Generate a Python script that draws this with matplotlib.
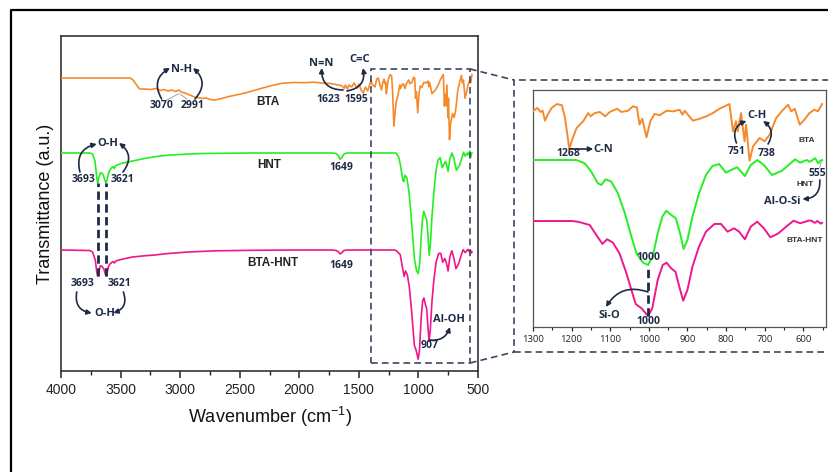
import numpy as np
import matplotlib
matplotlib.use("Agg")
import matplotlib.pyplot as plt
from matplotlib.lines import Line2D
from matplotlib.patches import Rectangle
from matplotlib.ticker import MultipleLocator

# ---------------- data ----------------
bta_wn = [4000, 3420, 3395, 3360, 3340, 3300, 3250, 3200, 3170, 3140, 3100, 3070, 3040, 3010, 2991,
          2960, 2920, 2880, 2850, 2819, 2780, 2750, 2707, 2650, 2598, 2530, 2456, 2380, 2316, 2230,
          2148, 2050, 1959, 1880, 1812, 1740, 1672, 1640, 1623, 1612, 1595, 1582, 1560, 1540, 1515,
          1500, 1480, 1463, 1445, 1425, 1400, 1385, 1365, 1350, 1337, 1320, 1310, 1299, 1289, 1280,
          1275, 1269, 1261, 1252, 1238, 1225, 1217, 1206, 1197, 1187, 1170, 1157, 1151, 1140, 1127,
          1113, 1101, 1082, 1071, 1054, 1041, 1031, 1024, 1017, 1006, 996, 985, 972, 954, 937, 920,
          913, 907, 886, 868, 851, 834, 817, 795, 791, 782, 774, 770, 761, 752, 748, 739, 730, 713,
          700, 687, 670, 652, 639, 631, 622, 609, 597, 584, 571, 562, 551]
bta_t = [100, 100, 98, 92, 89, 89, 88.5, 89.5, 87.5, 88.5, 87, 88, 86.5, 88, 86,
         85, 83, 81, 80.5, 79.5, 80, 78.5, 78, 79.5, 81.3, 83, 85, 87.5, 89.7, 92.5,
         94.7, 95.5, 95.3, 95.8, 95, 94.5, 93, 92, 89.5, 93, 89, 93, 91, 95, 90,
         94, 88, 85, 91, 87, 97, 93, 91, 99, 100, 92, 88, 95.7, 98.9, 94.3,
         95.7, 84.3, 92, 98.9, 103.4, 102, 87.4, 52, 64.4, 75.9, 83.6, 93, 89.3, 93, 94.3,
         89.3, 94.3, 98, 94.3, 95.7, 100.8, 99.6, 79.7, 86.5, 65.2, 83.6, 92, 90.5, 95.7, 95, 96.9,
         91.2, 95.7, 84.3, 86.5, 89.3, 93, 98, 102.6, 103.4, 72, 83.6, 72, 93, 60.6, 79.7, 38.3, 54.8, 64.4,
         60.6, 68.2, 87.4, 96.9, 102.6, 95, 98, 79.7, 85.4, 93, 96.9, 95, 103.4]

hnt_wn = [4000, 3760, 3735, 3715, 3700, 3693, 3685, 3670, 3658, 3645, 3630, 3621, 3612, 3600, 3589,
          3570, 3561, 3552, 3540, 3491, 3400, 3300, 3211, 3100, 2932, 2800, 2652, 2400, 1720, 1690,
          1670, 1658, 1645, 1625, 1600, 1200, 1188, 1166, 1149, 1132, 1123, 1112, 1097, 1080, 1062,
          1045, 1032, 1015, 1002, 990, 977, 965, 955, 942, 930, 919, 910, 900, 887, 870, 852, 835,
          818, 800, 787, 771, 751, 736, 719, 702, 681, 655, 638, 621, 608, 591, 584, 578, 573, 569,
          565, 561, 556, 551]
hnt_t = [100, 100, 99, 92, 76, 70, 74, 80, 80, 78, 72, 70, 74, 80, 83,
         86, 86.3, 84.5, 87.5, 89.7, 92, 94.5, 96.3, 97.8, 99, 99.5, 99.7, 100, 100, 99.5,
         97, 93.7, 95, 99, 100, 100, 100, 96.2, 86.6, 73.2, 71.3, 77.8, 75.1, 61.7, 38.7,
         11.8, -7.2, -18, -20.7, -11.1, 15.7, 34.8, 41.7, 36.8, 33, 15.7, -2.3, 8, 34.8, 61.7, 82.8, 93.1,
         95.4, 85.4, 88.5, 91.6, 81.6, 94.3, 100, 94.3, 82.8, 87.7, 94.3, 100.8, 96.9, 100, 98, 99.2, 101, 102,
         99, 96.2, 99, 100]

bh_wn = [4000, 3900, 3760, 3735, 3712, 3700, 3693, 3684, 3670, 3658, 3640, 3628, 3621, 3612, 3600,
         3589, 3570, 3561, 3552, 3540, 3491, 3400, 3300, 3211, 3100, 2932, 2700, 2400, 2000, 1720,
         1690, 1670, 1658, 1645, 1625, 1600, 1200, 1184, 1153, 1136, 1120, 1108, 1093, 1076, 1058,
         1045, 1034, 1019, 1002, 991, 977, 964, 954, 942, 931, 921, 911, 900, 887, 870, 852, 830,
         813, 796, 779, 766, 751, 736, 719, 702, 685, 664, 642, 625, 608, 594, 586, 578, 573, 569,
         564, 560, 555, 551]
bh_t = [100, 99.8, 99.5, 98, 90, 78, 74, 78, 84, 84, 81, 76, 74, 78, 84,
        86, 88, 88.3, 87, 89, 90.7, 93, 94.2, 95, 96.5, 98, 99.2, 99.7, 100, 100,
        99.5, 98, 96, 97, 99.5, 100, 100, 99.2, 95.4, 83.9, 73.6, 79, 75.1, 62.8, 39.9,
        20.7, 4.6, -0.3, -9.2, -0.3, 32.2, 49.4, 52.1, 45.6, 41.7, 24.5, 8.4, 20.7, 47.5, 70.5, 87.7, 96.6,
        96.6, 87.7, 91.6, 87.7, 79, 93.5, 99.2, 91.6, 81.3, 85.9, 94.3, 100.3, 97.4, 99.2, 100.5, 100.3, 98.5, 98,
        100, 99, 97, 98]

names = ["BTA", "HNT", "BTA-HNT"]
series = {"BTA": (bta_wn, bta_t), "HNT": (hnt_wn, hnt_t), "BTA-HNT": (bh_wn, bh_t)}
colors = {"BTA": "#f58a2c", "HNT": "#25ee22", "BTA-HNT": "#f0168c"}

# vertical stacking (layout)
main_off = {"BTA": 193, "HNT": 118, "BTA-HNT": 21}
ins_scale = 0.87
ins_base = {"BTA": 220, "HNT": 167, "BTA-HNT": 106}

NAVY = "#1f2a46"
plt.rcParams["font.family"] = ["Liberation Sans", "DejaVu Sans"]
plt.rcParams["mathtext.default"] = "regular"

W, H = 829, 472
fig = plt.figure(figsize=(W / 100, H / 100), dpi=100)


def box(l, t, r, b):
    return [l / W, 1 - b / H, (r - l) / W, (b - t) / H]


def fx(px):
    return px / W


def fy(py):
    return 1 - py / H


ax = fig.add_axes(box(61, 36, 478, 371))
axi = fig.add_axes(box(533, 90, 826, 327))

# ---------------- main panel ----------------
for n in names:
    wn, t = series[n]
    ax.plot(wn, np.array(t) + main_off[n], color=colors[n], lw=1.2, zorder=3)
ax.set_xlim(4000, 500)
ax.set_ylim(0, 335)
ax.set_yticks([])
ax.xaxis.set_major_locator(MultipleLocator(500))
ax.xaxis.set_minor_locator(MultipleLocator(250))
ax.tick_params(axis="x", which="major", direction="out", length=5, width=1.1, labelsize=10,
               pad=4, colors="#222222")
ax.tick_params(axis="x", which="minor", direction="out", length=3, width=1.0, colors="#222222")
for s in ax.spines.values():
    s.set_linewidth(1.2)
    s.set_color("#333333")
ax.set_xlabel("Wavenumber (cm$^{-1}$)", fontsize=13, labelpad=5, color="#111111")
ax.set_ylabel("Transmittance (a.u.)", fontsize=13, labelpad=5, color="#111111")

ann = dict(fontfamily=["Open Sans", "DejaVu Sans"], fontweight="bold", color=NAVY, ha="center",
           va="center")


def txt(a, x, y, s, size=7.5, **kw):
    d = dict(ann)
    d.update(kw)
    a.text(x, y, s, fontsize=size, **d)


def arr(a, p0, p1, rad, lw=1.2, ms=7):
    a.annotate("", xy=p1, xytext=p0,
               arrowprops=dict(arrowstyle="-|>", color=NAVY, lw=lw, mutation_scale=ms,
                               connectionstyle=f"arc3,rad={rad}", shrinkA=0, shrinkB=0))


# labels of spectra
lab = dict(fontfamily=["Liberation Sans"], fontweight="bold", color="#222222", ha="center", va="center")
ax.text(2263, 269, "BTA", fontsize=8.5, **lab)
ax.text(2253, 206, "HNT", fontsize=8.5, **lab)
ax.text(2223, 108, "BTA-HNT", fontsize=8.5, **lab)

# BTA annotations
txt(ax, 2987, 302, "N-H", 8)
txt(ax, 3152, 265, "3070")
txt(ax, 2892, 265, "2991")
arr(ax, (3155, 272), (3085, 303), -0.5)
arr(ax, (2875, 272), (2892, 303), 0.5)
ax.plot([3113, 3016], [271, 277], color="#9aa0aa", lw=0.7)
ax.plot([2945, 3001], [272, 277], color="#9aa0aa", lw=0.7)
txt(ax, 1820, 308, "N=N", 8)
txt(ax, 1490, 312, "C=C", 8)
txt(ax, 1757, 272, "1623")
txt(ax, 1524, 272, "1595")
arr(ax, (1633, 281), (1812, 303), -0.5)
arr(ax, (1600, 280), (1465, 303), 0.5)

# HNT annotations
txt(ax, 3603, 227, "O-H", 8)
txt(ax, 3813, 192, "3693")
txt(ax, 3486, 192, "3621")
arr(ax, (3841, 199), (3700, 227), -0.5)
arr(ax, (3480, 199), (3513, 228), 0.5)
txt(ax, 1650, 204, "1649")

# BTA-HNT annotations
txt(ax, 3818, 88, "3693")
txt(ax, 3513, 88, "3621")
txt(ax, 3631, 58, "O-H", 8)
arr(ax, (3868, 79), (3742, 58), 0.5)
arr(ax, (3477, 79), (3561, 58), -0.5)
txt(ax, 1650, 105, "1649")
txt(ax, 741, 52, "Al-OH", 8)
txt(ax, 909, 25, "907")
arr(ax, (909, 31), (735, 44), 0.4)

# dashed verticals linking O-H bands
for w in (3693, 3621):
    y_top = np.interp(w, hnt_wn[::-1], hnt_t[::-1]) + main_off["HNT"]
    y_bot = np.interp(w, bh_wn[::-1], bh_t[::-1]) + main_off["BTA-HNT"]
    ax.plot([w, w], [y_bot, y_top], color=NAVY, lw=2.0, ls=(0, (3, 1.6)), zorder=4)

# dashed zoom box in main panel
ax.add_patch(Rectangle((1398, 8), 567 - 1398, 302 - 8, fill=False, ec="#3a4560", lw=1.2,
                       ls=(0, (4, 2.5)), zorder=5))

# ---------------- inset ----------------
for n in names:
    wn, t = series[n]
    axi.plot(wn, ins_base[n] + ins_scale * (np.array(t) - 100), color=colors[n], lw=1.4, zorder=3)
axi.set_xlim(1300, 541)
axi.set_ylim(0, 237)
axi.set_yticks([])
axi.xaxis.set_major_locator(MultipleLocator(100))
axi.xaxis.set_minor_locator(MultipleLocator(50))
axi.tick_params(axis="x", which="major", direction="out", length=3, width=0.9, labelsize=6.8,
                pad=2.5, colors="#222222")
axi.tick_params(axis="x", which="minor", direction="out", length=2, width=0.8, colors="#222222")
for lbl in axi.get_xticklabels():
    lbl.set_fontfamily(["Open Sans", "DejaVu Sans"])
for s in axi.spines.values():
    s.set_linewidth(0.9)
    s.set_color("#555555")

txt(axi, 1209, 173, "1268", 7.5)
txt(axi, 1118, 178, "C-N", 8)
axi.annotate("", xy=(1144, 178), xytext=(1206, 178),
             arrowprops=dict(arrowstyle="-|>", color=NAVY, lw=1.2, mutation_scale=7, shrinkA=0, shrinkB=0))
txt(axi, 721, 211, "C-H", 8)
txt(axi, 772, 175, "751", 7.5)
txt(axi, 694, 173, "738", 7.5)
arr(axi, (773, 184), (747, 206), -0.5)
arr(axi, (691, 183), (704, 206), 0.45)
small = dict(fontfamily=["Liberation Sans"], fontweight="bold", color="#333333", ha="center", va="center")
axi.text(592, 187, "BTA", fontsize=6, **small)
axi.text(596, 143, "HNT", fontsize=6, **small)
axi.text(597, 87, "BTA-HNT", fontsize=6, **small)
txt(axi, 563, 154, "555", 7.5)
axi.plot([558, 553], [159, 165], color="#9aa0aa", lw=0.7)
txt(axi, 654, 126, "Al-O-Si", 8)
arr(axi, (557, 147), (602, 128), -0.5)
txt(axi, 1002, 69, "1000", 7.5)
txt(axi, 1002, 6, "1000", 7.5)
txt(axi, 1101, 12, "Si-O", 8)
arr(axi, (1002, 35), (1111, 20), 0.4)
w = 1002
y_top = ins_base["HNT"] + ins_scale * (np.interp(w, hnt_wn[::-1], hnt_t[::-1]) - 100)
y_bot = ins_base["BTA-HNT"] + ins_scale * (np.interp(w, bh_wn[::-1], bh_t[::-1]) - 100)
axi.plot([w, w], [y_bot, y_top - 4], color=NAVY, lw=2.0, ls=(0, (3, 1.6)), zorder=4)

# ---------------- figure-level frame and zoom connectors ----------------
dash = dict(color="#3a4560", lw=1.2, ls=(0, (4, 2.5)), transform=fig.transFigure, clip_on=False)
fig.add_artist(Rectangle((fx(514), fy(352)), fx(840) - fx(514), fy(80) - fy(352), fill=False,
                         ec="#3a4560", lw=1.2, ls=(0, (4, 2.5)), transform=fig.transFigure,
                         clip_on=False))
fig.add_artist(Line2D([fx(470), fx(514)], [fy(69), fy(80)], **dash))
fig.add_artist(Line2D([fx(470), fx(514)], [fy(363), fy(352)], **dash))
fig.add_artist(Line2D([fx(11), fx(11), fx(840)], [fy(480), fy(10), fy(10)], color="black", lw=1.6,
                      transform=fig.transFigure, clip_on=False))

fig.savefig("out.png", dpi=100)
